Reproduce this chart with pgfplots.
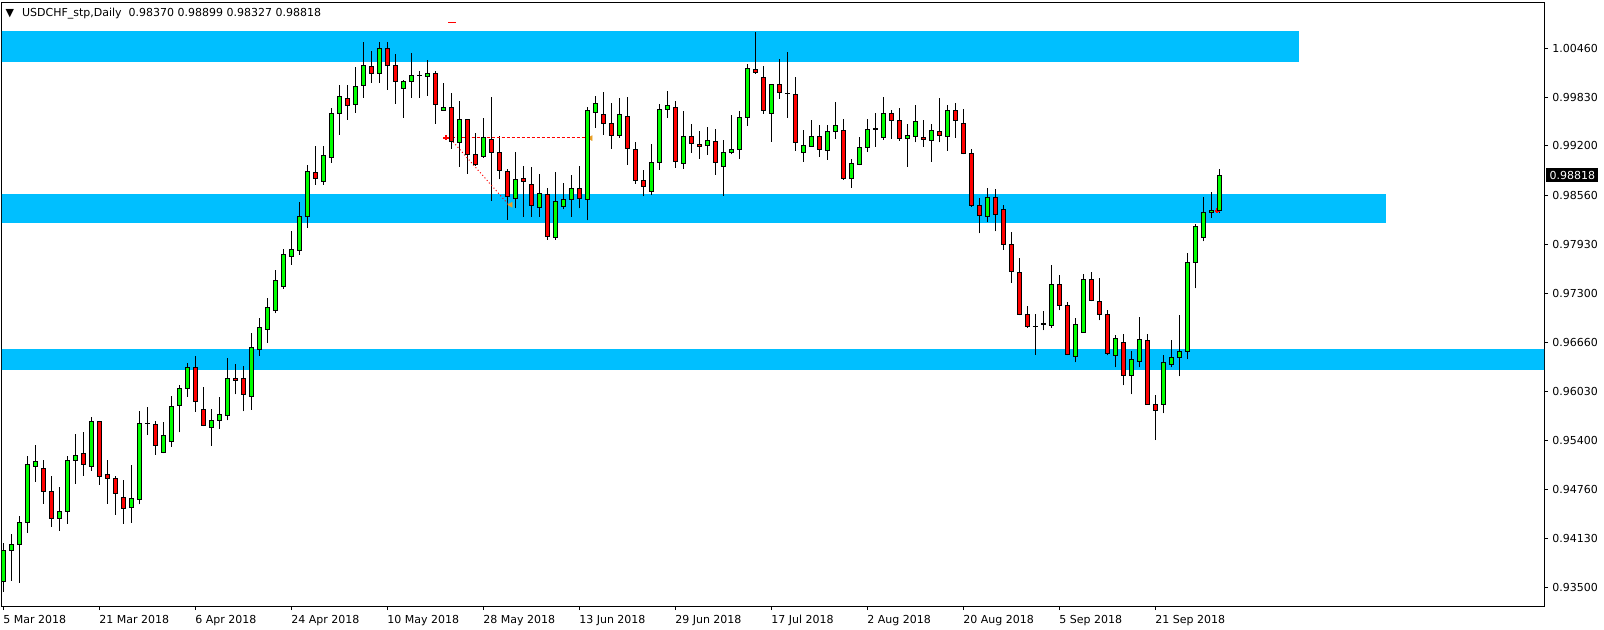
\documentclass[border=0pt]{standalone}
\usepackage{fontspec}
\setmainfont{DejaVu Sans}
\usepackage{pgfplots}
\pgfplotsset{compat=1.18}
\usepackage{pgfplotstable}
\definecolor{zone}{RGB}{0,191,255}
\definecolor{bull}{RGB}{0,255,0}
\definecolor{bear}{RGB}{255,0,0}
\definecolor{arrowc}{RGB}{232,160,40}
\newcommand\lbl{\fontsize{5.5}{6.5}\selectfont}

\pgfplotstableread{
x o h l c
0 0.93572 0.94067 0.93443 0.93981
1 0.93976 0.94187 0.93585 0.94054
2 0.94054 0.94420 0.93559 0.94338
3 0.94338 0.95194 0.94205 0.95087
4 0.95061 0.95336 0.94863 0.95125
5 0.95035 0.95143 0.94579 0.94734
6 0.94738 0.94936 0.94282 0.94390
7 0.94390 0.94794 0.94230 0.94480
8 0.94476 0.95194 0.94321 0.95138
9 0.95138 0.95478 0.94837 0.95203
10 0.95229 0.95504 0.94940 0.95087
11 0.95061 0.95693 0.95005 0.95642
12 0.95642 0.95650 0.94824 0.94932
13 0.94958 0.95143 0.94579 0.94902
14 0.94906 0.94940 0.94437 0.94712
15 0.94661 0.94884 0.94321 0.94519
16 0.94532 0.95078 0.94334 0.94648
17 0.94635 0.95775 0.94570 0.95616
18 0.95614 0.95827 0.95470 0.95618
19 0.95603 0.95646 0.95211 0.95328
20 0.95241 0.95633 0.95229 0.95461
21 0.95384 0.95969 0.95315 0.95835
22 0.95848 0.96111 0.95500 0.96068
23 0.96068 0.96395 0.95960 0.96339
24 0.96339 0.96485 0.95767 0.95900
25 0.95797 0.96085 0.95577 0.95590
26 0.95564 0.95801 0.95328 0.95655
27 0.95655 0.95956 0.95547 0.95732
28 0.95719 0.96459 0.95655 0.96197
29 0.96197 0.96382 0.95990 0.96171
30 0.96197 0.96356 0.95771 0.95990
31 0.95964 0.96778 0.95792 0.96597
32 0.96571 0.96972 0.96490 0.96855
33 0.96830 0.97230 0.96658 0.97114
34 0.97075 0.97596 0.97036 0.97462
35 0.97380 0.97875 0.97355 0.97798
36 0.97768 0.98099 0.97664 0.97867
37 0.97849 0.98473 0.97794 0.98288
38 0.98284 0.98951 0.98142 0.98869
39 0.98856 0.99196 0.98697 0.98779
40 0.98740 0.99196 0.98697 0.99076
41 0.99050 0.99683 0.98981 0.99618
42 0.99618 0.99984 0.99343 0.99837
43 0.99812 0.99984 0.99536 0.99721
44 0.99734 1.00216 0.99627 0.99967
45 0.99979 1.00547 0.99820 1.00238
46 1.00225 1.00431 1.00014 1.00134
47 1.00134 1.00547 1.00018 1.00457
48 1.00457 1.00547 0.99924 1.00238
49 1.00238 1.00384 0.99743 1.00031
50 0.99941 1.00057 0.99562 1.00031
51 1.00031 1.00405 0.99820 1.00109
52 1.00107 1.00173 0.99820 1.00111
53 1.00096 1.00315 0.99846 1.00134
54 1.00134 1.00173 0.99485 0.99734
55 0.99657 1.00010 0.99657 0.99695
56 0.99695 0.99889 0.99166 0.99257
57 0.99244 0.99777 0.98929 0.99541
58 0.99541 0.99553 0.98839 0.99089
59 0.99089 0.99360 0.98942 0.98960
60 0.99063 0.99566 0.99050 0.99308
61 0.99282 0.99825 0.98491 0.99115
62 0.99115 0.99334 0.98766 0.98882
63 0.98869 0.98908 0.98245 0.98547
64 0.98521 0.99115 0.98392 0.98766
65 0.98779 0.98934 0.98284 0.98740
66 0.98701 0.98921 0.98288 0.98430
67 0.98405 0.98843 0.98284 0.98585
68 0.98572 0.98650 0.97987 0.98030
69 0.98017 0.98869 0.97991 0.98482
70 0.98417 0.98727 0.98379 0.98508
71 0.98508 0.98818 0.98288 0.98650
72 0.98650 0.98934 0.98392 0.98521
73 0.98508 0.99708 0.98237 0.99657
74 0.99631 0.99850 0.99437 0.99747
75 0.99605 0.99893 0.99343 0.99489
76 0.99489 0.99760 0.99162 0.99334
77 0.99334 0.99812 0.99308 0.99605
78 0.99579 0.99837 0.98955 0.99166
79 0.99153 0.99244 0.98714 0.98753
80 0.98753 0.98895 0.98547 0.98676
81 0.98611 0.99218 0.98572 0.98985
82 0.98985 0.99747 0.98895 0.99670
83 0.99670 0.99915 0.99562 0.99721
84 0.99695 0.99786 0.98917 0.98998
85 0.98973 0.99648 0.98904 0.99321
86 0.99321 0.99480 0.99110 0.99231
87 0.99218 0.99386 0.99033 0.99192
88 0.99205 0.99450 0.99084 0.99269
89 0.99257 0.99424 0.98826 0.98985
90 0.98934 0.99282 0.98555 0.99115
91 0.99115 0.99605 0.99089 0.99153
92 0.99153 0.99644 0.99033 0.99566
93 0.99566 1.00251 0.99459 1.00199
94 1.00186 1.00664 1.00134 1.00147
95 1.00083 1.00225 0.99618 0.99657
96 0.99618 1.00005 0.99252 0.99992
97 0.99992 1.00328 0.99807 0.99889
98 0.99882 1.00418 0.99562 0.99878
99 0.99863 1.00083 0.99136 0.99244
100 0.99115 0.99411 0.98994 0.99205
101 0.99192 0.99528 0.99192 0.99321
102 0.99321 0.99476 0.99059 0.99153
103 0.99140 0.99476 0.99024 0.99386
104 0.99386 0.99773 0.99295 0.99463
105 0.99398 0.99553 0.98762 0.98779
106 0.98779 0.99037 0.98658 0.98973
107 0.98960 0.99321 0.98947 0.99179
108 0.99179 0.99541 0.99127 0.99411
109 0.99418 0.99631 0.99188 0.99422
110 0.99308 0.99837 0.99282 0.99618
111 0.99618 0.99657 0.99295 0.99528
112 0.99528 0.99695 0.99269 0.99295
113 0.99295 0.99489 0.98929 0.99334
114 0.99321 0.99734 0.99244 0.99515
115 0.99308 0.99528 0.99188 0.99282
116 0.99269 0.99489 0.98994 0.99398
117 0.99386 0.99812 0.99244 0.99334
118 0.99321 0.99734 0.99140 0.99657
119 0.99657 0.99760 0.99308 0.99528
120 0.99489 0.99670 0.99089 0.99102
121 0.99102 0.99166 0.98417 0.98430
122 0.98430 0.98521 0.98069 0.98301
123 0.98288 0.98650 0.98211 0.98534
124 0.98534 0.98637 0.98095 0.98314
125 0.98379 0.98443 0.97862 0.97927
126 0.97927 0.98082 0.97436 0.97578
127 0.97565 0.97746 0.97010 0.97023
128 0.97023 0.97139 0.96855 0.96868
129 0.96870 0.97023 0.96502 0.96866
130 0.96893 0.97062 0.96817 0.96903
131 0.96881 0.97656 0.96855 0.97410
132 0.97410 0.97527 0.97075 0.97139
133 0.97139 0.97178 0.96494 0.96507
134 0.96481 0.96984 0.96404 0.96894
135 0.96791 0.97540 0.96791 0.97475
136 0.97475 0.97578 0.97191 0.97204
137 0.97191 0.97488 0.96946 0.97023
138 0.97023 0.97075 0.96494 0.96520
139 0.96494 0.96752 0.96339 0.96713
140 0.96662 0.96765 0.96107 0.96236
141 0.96236 0.96546 0.95990 0.96442
142 0.96416 0.96997 0.96339 0.96700
143 0.96688 0.96765 0.95861 0.95861
144 0.95861 0.95978 0.95401 0.95784
145 0.95861 0.96494 0.95745 0.96404
146 0.96378 0.96700 0.96339 0.96468
147 0.96468 0.97010 0.96223 0.96546
148 0.96546 0.97811 0.96442 0.97694
149 0.97694 0.98185 0.97359 0.98159
150 0.98017 0.98546 0.97966 0.98340
151 0.98340 0.98611 0.98275 0.98366
152 0.98370 0.98899 0.98327 0.98818
}\candles

\pgfplotsset{chartaxis/.style={
  scale only axis, width=771pt, height=301.85pt,
  at={(1pt,-1.15pt)}, anchor=north west,
  xmin=-0.1875, xmax=192.5625, ymin=0.93259, ymax=1.01054,
  enlargelimits=false,
  axis line style={line width=0.5pt, black},
}}

\begin{document}
\begin{tikzpicture}
\path[use as bounding box] (0,0) rectangle (802pt,-315pt);
\begin{axis}[chartaxis,
  xtick={0,12,...,144},
  xticklabels={5 Mar 2018,21 Mar 2018,6 Apr 2018,24 Apr 2018,10 May 2018,28 May 2018,13 Jun 2018,29 Jun 2018,17 Jul 2018,2 Aug 2018,20 Aug 2018,5 Sep 2018,21 Sep 2018},
  xtick pos=bottom,
  ytick={0.93500,0.94130,0.94760,0.95400,0.96030,0.96660,0.97300,0.97930,0.98560,0.99200,0.99830,1.00460},
  yticklabels={0.93500,0.94130,0.94760,0.95400,0.96030,0.96660,0.97300,0.97930,0.98560,0.99200,0.99830,1.00460},
  ytick pos=right, yticklabel pos=right,
  tick align=outside, major tick length=2pt,
  major tick style={line width=0.5pt, black},
  xticklabel style={anchor=north west, inner sep=0pt, font=\lbl, xshift=-0.3pt, yshift=-2.3pt},
  yticklabel style={anchor=west, inner sep=0pt, font=\lbl, xshift=2pt},
]
% support / resistance zones
\addplot[draw=none, fill=zone, forget plot] coordinates {(-1,1.00684) (161.9,1.00684) (161.9,1.00288) (-1,1.00288)} -- cycle;
\addplot[draw=none, fill=zone, forget plot] coordinates {(-1,0.98582) (172.8,0.98582) (172.8,0.98208) (-1,0.98208)} -- cycle;
\addplot[draw=none, fill=zone, forget plot] coordinates {(-1,0.96575) (200,0.96575) (200,0.96304) (-1,0.96304)} -- cycle;
% wicks
\addplot[draw=none, mark=none, forget plot,
  error bars/.cd, y dir=plus, y explicit, error mark=none,
  error bar style={draw=black, solid, line width=0.5pt}]
  table[x=x, y=l, y error expr={\thisrow{h}-\thisrow{l}}] {\candles};
% trade objects
\addplot[bear, line width=0.5pt, dash pattern=on 1.5pt off 1pt, forget plot] coordinates {(55.4,0.99305) (73.1,0.99305)};
\addplot[bear, line width=0.5pt, dash pattern=on 0.5pt off 1.2pt, forget plot] coordinates {(56.2,0.99252) (63.0,0.98456)};
\addplot[bear, line width=0.6pt, forget plot] coordinates {(55.6,1.00793) (56.5,1.00793)};
\addplot[only marks, mark=+, mark size=1.3pt, bear, line width=0.8pt, forget plot] coordinates {(55.3,0.99305)};
\addplot[only marks, mark=triangle*, mark size=1.3pt, mark options={rotate=90, fill=arrowc, draw=arrowc}, forget plot] coordinates {(63.4,0.98440) (73.4,0.99300)};
\addplot[only marks, mark=+, mark size=1.3pt, bear, line width=0.8pt, forget plot] coordinates {(151.7,0.98361)};
\coordinate (tag) at (axis cs:192.5625,0.98818);
\end{axis}
\begin{axis}[chartaxis, hide axis, ybar stacked, bar width=2pt]
\addplot[draw=none, fill=none] table[x=x, y expr={min(\thisrow{o},\thisrow{c})}] {\candles};
\addplot[fill=bull, draw=black, line width=0.5pt] table[x=x, y expr={max(\thisrow{c}-\thisrow{o},0)}] {\candles};
\addplot[fill=bear, draw=black, line width=0.5pt] table[x=x, y expr={max(\thisrow{o}-\thisrow{c},0)}] {\candles};
\end{axis}
\node[fill=black, text=white, font=\lbl, anchor=west, inner sep=0pt, minimum width=26pt, minimum height=7pt] at ([xshift=1pt]tag) {0.98818};
\node[anchor=base west, inner sep=0pt, font=\lbl] at (2.6pt,-8.3pt) {▼};
\node[anchor=base west, inner sep=0pt, font=\lbl] at (10.85pt,-8.5pt) {USDCHF\_stp,Daily\ \ 0.98370 0.98899 0.98327 0.98818};
\end{tikzpicture}
\end{document}
